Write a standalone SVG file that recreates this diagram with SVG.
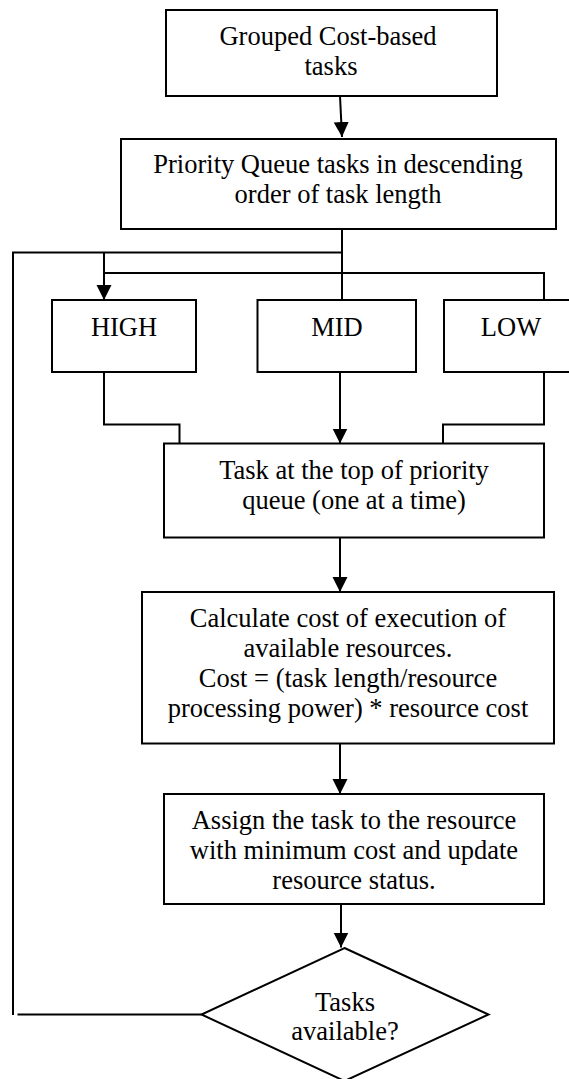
<svg xmlns="http://www.w3.org/2000/svg" width="569" height="1079" viewBox="0 0 569 1079">
<style>
.box{fill:#fff;stroke:#000;stroke-width:2}
.ln{fill:none;stroke:#000;stroke-width:2}
.t{font-family:"Liberation Serif","Times New Roman",serif;font-size:26.5px;fill:#000;text-anchor:middle}
</style>
<defs>
<marker id="ah" markerUnits="userSpaceOnUse" markerWidth="16" markerHeight="16" refX="15" refY="7.5" orient="auto">
<path d="M0,0 L15,7.5 L0,15 Z" fill="#000"/>
</marker>
</defs>
<rect width="569" height="1079" fill="#fff"/>
<g id="connectors">
<line class="ln" x1="340" y1="96" x2="342" y2="137" marker-end="url(#ah)"/>
<line class="ln" x1="342" y1="229" x2="342" y2="300"/>
<polyline class="ln" points="13,1015 13,252.5 342,252.5"/>
<line class="ln" x1="104" y1="252.5" x2="104" y2="300" marker-end="url(#ah)"/>
<polyline class="ln" points="104,273 544,273 544,300"/>
<polyline class="ln" points="104,372 104,424.5 179.5,424.5 179.5,443.5"/>
<line class="ln" x1="340" y1="372" x2="340" y2="443.5" marker-end="url(#ah)"/>
<polyline class="ln" points="544,372 544,424.5 443,424.5 443,443.5"/>
<line class="ln" x1="340" y1="537.5" x2="340" y2="592" marker-end="url(#ah)"/>
<line class="ln" x1="340" y1="743.5" x2="340" y2="794" marker-end="url(#ah)"/>
<line class="ln" x1="341" y1="904" x2="341" y2="947.5" marker-end="url(#ah)"/>
<line class="ln" x1="17.5" y1="1014.5" x2="201.5" y2="1014.5"/>
</g>
<g id="n1"><rect class="box" x="166" y="10" width="331" height="86"/>
<text class="t" x="328" y="45">Grouped Cost-based</text><text class="t" x="331" y="75">tasks</text></g>
<g id="n2"><rect class="box" x="121" y="139" width="435" height="90"/>
<text class="t" x="338" y="173">Priority Queue tasks in descending</text><text class="t" x="338" y="203">order of task length</text></g>
<g id="high"><rect class="box" x="52" y="300" width="144" height="72"/><text class="t" x="124" y="336">HIGH</text></g>
<g id="mid"><rect class="box" x="257.5" y="300" width="158.5" height="72"/><text class="t" x="337" y="336">MID</text></g>
<g id="low"><rect class="box" x="444" y="300" width="133" height="72"/><text class="t" x="511" y="336">LOW</text></g>
<g id="n3"><rect class="box" x="164" y="443.5" width="380" height="94"/>
<text class="t" x="354" y="479">Task at the top of priority</text><text class="t" x="354" y="509">queue (one at a time)</text></g>
<g id="n4"><rect class="box" x="142" y="592" width="412" height="151.5"/>
<text class="t" x="348" y="627">Calculate cost of execution of</text>
<text class="t" x="348" y="657">available resources.</text>
<text class="t" x="348" y="687">Cost = (task length/resource</text>
<text class="t" x="348" y="717">processing power) * resource cost</text></g>
<g id="n5"><rect class="box" x="164" y="794" width="380" height="110"/>
<text class="t" x="354" y="828.5">Assign the task to the resource</text>
<text class="t" x="354" y="858.5">with minimum cost and update</text>
<text class="t" x="354" y="888.5">resource status.</text></g>
<g id="n6"><polygon class="box" points="344.5,948 488.5,1014.5 344.5,1081 201.5,1014.5"/>
<text class="t" x="345" y="1011">Tasks</text><text class="t" x="345" y="1040">available?</text></g>
</svg>
